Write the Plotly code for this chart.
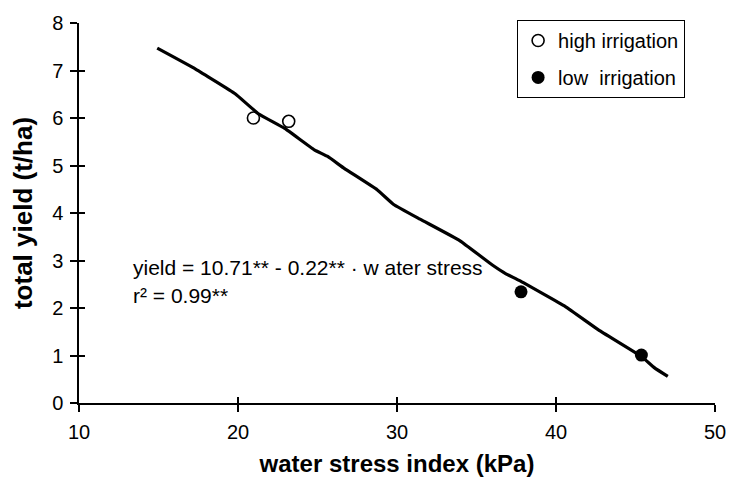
import plotly.graph_objects as go

# Data
high_x = [20.97, 23.19]
high_y = [6.00, 5.93]
low_x = [37.80, 45.37]
low_y = [2.34, 1.01]

line_x = [14.92, 17.33, 19.82, 21.28, 22.94, 24.8, 25.64, 26.68, 28.75, 29.79,
          31.45, 33.94, 36.02, 36.85, 37.68, 40.59, 42.67, 45.37, 46.2, 47.03]
line_y = [7.47, 7.03, 6.51, 6.09, 5.78, 5.33, 5.19, 4.94, 4.49, 4.18,
          3.87, 3.42, 2.90, 2.72, 2.58, 2.03, 1.54, 0.98, 0.74, 0.56]

x_ticks = [10, 20, 30, 40, 50]
y_ticks = [0, 1, 2, 3, 4, 5, 6, 7, 8]

FONT = "Liberation Sans, Arial, sans-serif"

fig = go.Figure()
fig.add_trace(go.Scatter(x=high_x, y=high_y, mode="markers", name="high irrigation",
                         legendgroup="a",
                         marker=dict(symbol="circle", size=12, color="white",
                                     line=dict(color="black", width=1.6))))
fig.add_trace(go.Scatter(x=low_x, y=low_y, mode="markers", name="low  irrigation",
                         legendgroup="b",
                         marker=dict(symbol="circle", size=13, color="black",
                                     line=dict(color="black", width=0))))
fig.add_trace(go.Scatter(x=line_x, y=line_y, mode="lines", showlegend=False,
                         line=dict(color="black", width=3.2, shape="spline", smoothing=0.3)))
# helper trace on overlay axes (for crossing tick marks)
fig.add_trace(go.Scatter(x=[None], y=[None], xaxis="x2", yaxis="y2", showlegend=False))

fig.update_layout(
    width=738, height=485,
    margin=dict(l=79, r=17, t=20, b=81),
    paper_bgcolor="white", plot_bgcolor="white",
    font=dict(family=FONT, size=20, color="black"),
    showlegend=True,
    legend=dict(x=0.953, y=1.008, xanchor="right", yanchor="top",
                bordercolor="black", borderwidth=1, bgcolor="white",
                traceorder="grouped", tracegroupgap=8,
                font=dict(family=FONT, size=20, color="black")),
    xaxis=dict(range=[10, 50], tickvals=x_ticks, ticktext=[str(v) for v in x_ticks],
               showline=True, linecolor="black", linewidth=1.5,
               ticks="outside", ticklen=7, tickwidth=1.5, tickcolor="black",
               showgrid=False, zeroline=False, ticklabelstandoff=3,
               tickfont=dict(family=FONT, size=20),
               title=dict(text="<b>water stress index (kPa)</b>", standoff=13,
                          font=dict(family=FONT, size=24))),
    yaxis=dict(range=[0, 8], tickvals=y_ticks, ticktext=[str(v) for v in y_ticks],
               showline=True, linecolor="black", linewidth=1.5,
               ticks="outside", ticklen=7, tickwidth=1.5, tickcolor="black",
               showgrid=False, zeroline=False, ticklabelstandoff=3,
               tickfont=dict(family=FONT, size=20),
               title=dict(text="<b>total yield (t/ha)</b>", standoff=12,
                          font=dict(family=FONT, size=26))),
    xaxis2=dict(range=[10, 50], tickvals=x_ticks, overlaying="x", side="bottom",
                ticks="inside", ticklen=6, tickwidth=1.5, tickcolor="black",
                showticklabels=False, showgrid=False, zeroline=False, showline=False),
    yaxis2=dict(range=[0, 8], tickvals=y_ticks, overlaying="y", side="left",
                ticks="inside", ticklen=6, tickwidth=1.5, tickcolor="black",
                showticklabels=False, showgrid=False, zeroline=False, showline=False),
)

fig.add_annotation(x=13.3, y=2.85, xref="x", yref="y", xanchor="left", yanchor="middle",
                   text="yield = 10.71** - 0.22** · w ater stress", showarrow=False,
                   font=dict(family=FONT, size=21, color="black"))
fig.add_annotation(x=13.3, y=2.27, xref="x", yref="y", xanchor="left", yanchor="middle",
                   text="r² = 0.99**", showarrow=False,
                   font=dict(family=FONT, size=21, color="black"))

fig.write_html("out.html")
